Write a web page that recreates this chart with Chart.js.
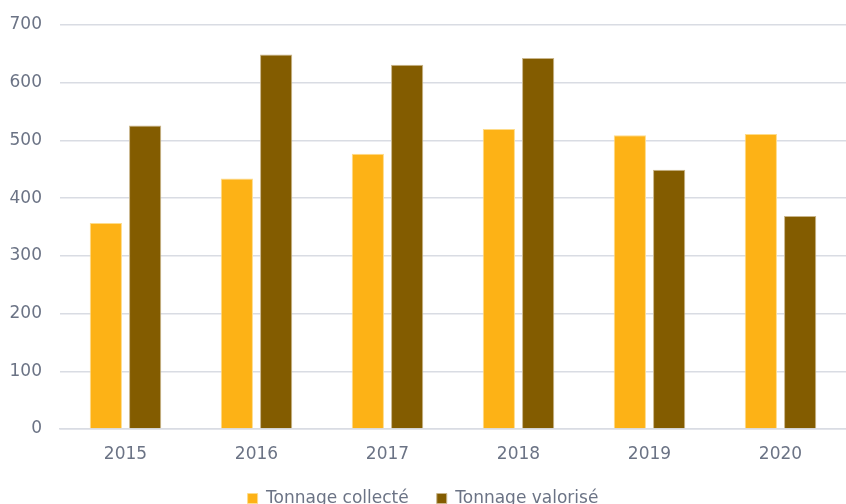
<!DOCTYPE html>
<html>
<head>
<meta charset="utf-8">
<script src="https://cdn.jsdelivr.net/npm/chart.js@4"></script>
<style>
  html, body { margin: 0; padding: 0; background: #fff; }
  #wrap { width: 846px; height: 504px; }
</style>
</head>
<body>
<div id="wrap"><canvas id="myChart" width="846" height="504"></canvas></div>
<script>
const years = ['2015', '2016', '2017', '2018', '2019', '2020'];
const collecte = [357, 434, 477, 520, 509, 511];
const valorise = [526, 649, 631, 643, 449, 369];
const yTicks = [0, 100, 200, 300, 400, 500, 600, 700];

const canvas = document.getElementById('myChart').getContext('2d');
const font = "'DejaVu Sans', sans-serif";

const data = {
  labels: years,
  datasets: [{
    label: 'Tonnage collecté',
    data: collecte,
    backgroundColor: '#fdb216',
    borderColor: '#fedc8a',
    borderWidth: 1,
    barPercentage: 0.82,
    categoryPercentage: 0.6
  }, {
    label: 'Tonnage valorisé',
    data: valorise,
    backgroundColor: '#835c00',
    borderColor: '#c9b58a',
    borderWidth: 1,
    barPercentage: 0.82,
    categoryPercentage: 0.6
  }]
};

const config = {
  type: 'bar',
  data: data,
  options: {
    responsive: false,
    animation: false,
    layout: { padding: { top: 0, right: 0, left: 0, bottom: -13 } },
    plugins: {
      tooltip: { enabled: false },
      legend: {
        position: 'bottom',
        labels: {
          boxWidth: 10,
          boxHeight: 10,
          padding: 28,
          color: '#6b7385',
          font: { family: font, size: 17 }
        }
      }
    },
    scales: {
      x: {
        afterFit: function(scale) { scale.height = 33; },
        grid: { display: false, drawTicks: false },
        border: { color: '#d9dce3', width: 1.5 },
        ticks: { color: '#6b7385', font: { family: font, size: 17 }, padding: 15 }
      },
      y: {
        min: 0,
        max: 700,
        afterFit: function(scale) {
          scale.width = 60;
          scale.paddingTop = 25;
        },
        afterBuildTicks: function(scale) {
          scale.ticks = yTicks.map(v => ({ value: v }));
        },
        grid: { color: '#d9dce3', lineWidth: 1.5, drawTicks: false },
        border: { display: false },
        ticks: { color: '#6b7385', font: { family: font, size: 17 }, padding: 18 }
      }
    }
  }
};

const myChart = new Chart(canvas, config);
</script>
</body>
</html>
